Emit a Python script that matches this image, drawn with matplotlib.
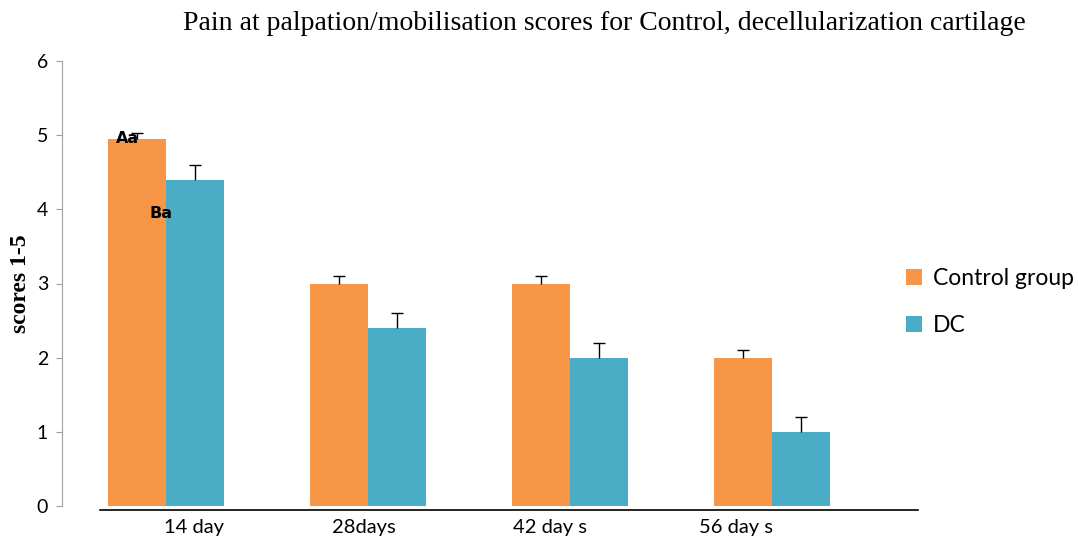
import numpy as np
import matplotlib.pyplot as plt

# datos
dias = ["14 day", "28days", "42 day s", "56 day s"]
control = [4.95, 3.0, 3.0, 2.0]
control_err = [0.08, 0.1, 0.1, 0.1]
dc = [4.4, 2.4, 2.0, 1.0]
dc_err = [0.2, 0.2, 0.2, 0.2]
letras = [("Aa", 0, 4.95), ("Ba", 0, 3.95)]

NARANJA = "#F79646"
AZUL = "#4BACC6"

fig = plt.figure(figsize=(10.78, 5.41), dpi=100)
# ejes colocados en pixeles: x 62..918, y 61..506
ax = fig.add_axes([62/1078, 1 - 506/541, (918-62)/1078, (506-61)/541])

x = np.arange(len(dias))
w = 0.287
b1 = ax.bar(x - w/2, control, w, color=NARANJA, label="Control group",
            yerr=[np.zeros(len(dias)), control_err], capsize=4,
            error_kw=dict(elinewidth=1, capthick=1, ecolor="black"))
b2 = ax.bar(x + w/2, dc, w, color=AZUL, label="DC",
            yerr=[np.zeros(len(dias)), dc_err], capsize=4,
            error_kw=dict(elinewidth=1, capthick=1, ecolor="black"))
# solo la tapa superior de la barra de error
for b in (b1, b2):
    b.errorbar.lines[1][0].set_visible(False)

for txt, i, yv in letras:
    dx = -0.25 if txt == "Aa" else -0.08
    ax.text(i + dx, yv, txt, fontsize=11.5, fontweight="bold",
            family="DejaVu Sans", ha="left", va="center")

ax.set_xlim(-0.515, 3.723)
ax.set_ylim(0, 6)
ax.set_yticks(range(7))
ax.tick_params(axis="y", labelsize=14, length=4, color="#a0a0a0", pad=6)
for lab in ax.get_yticklabels():
    lab.set_family("Lato")

# etiquetas del eje x (algo desplazadas como en el original)
desplaz = [0.14, -0.02, -0.1, -0.18]
ax.set_xticks(x + np.array(desplaz))
ax.set_xticklabels(dias, family="Lato", fontsize=14.5)
ax.tick_params(axis="x", length=0, pad=9)

for s in ["top", "right", "bottom"]:
    ax.spines[s].set_visible(False)
ax.spines["left"].set_color("#a0a0a0")
ax.axhline(-0.055, xmin=(100-62)/856, xmax=1, color="black", lw=1.2,
           clip_on=False)

ax.set_ylabel("scores 1-5", family="Liberation Serif", fontweight="bold",
              fontsize=17, labelpad=4)

fig.text(604/1078, 1 - 23/541,
         "Pain at palpation/mobilisation scores for Control, decellularization cartilage",
         family="Liberation Serif", fontsize=20, ha="center", va="center")

leg = fig.legend(loc="center left", bbox_to_anchor=(885/1078, 1 - 302/541),
                 frameon=False, prop={"family": "Lato", "size": 16.5},
                 handlelength=0.7, handleheight=0.7, handletextpad=0.5,
                 labelspacing=1.1)

fig.savefig("out.png", dpi=100)
